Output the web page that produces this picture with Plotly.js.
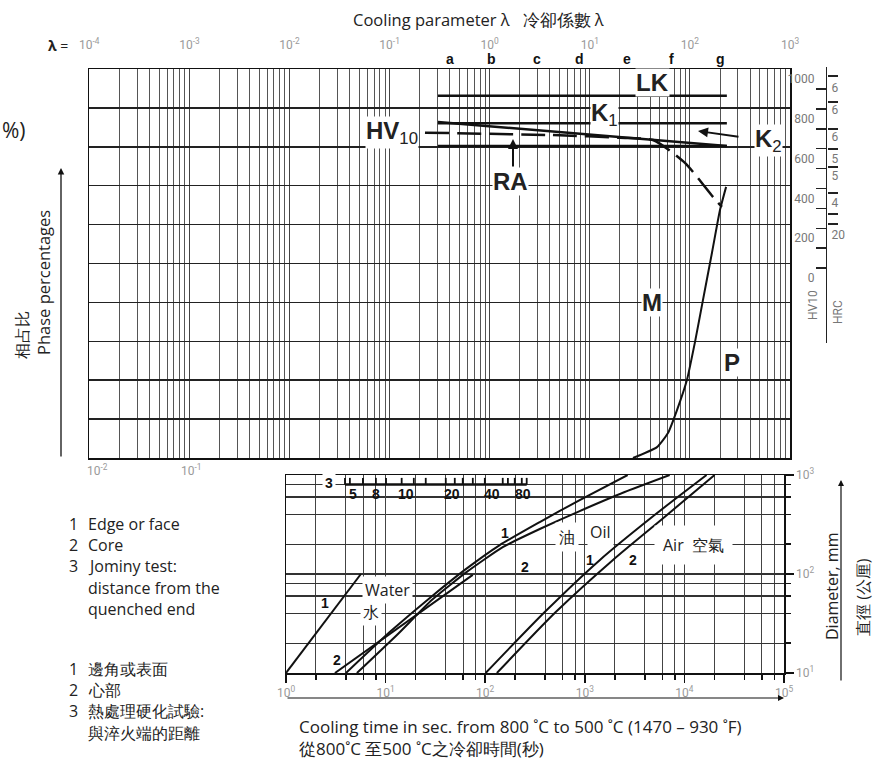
<!DOCTYPE html>
<html><head><meta charset="utf-8">
<script src="https://cdn.plot.ly/plotly-3.0.1.min.js"></script>
<style>body{margin:0;background:#fff}#chart{width:883px;height:760px}</style>
</head><body><div id="chart"></div>
<script>
const W = 883, H = 760;
const px = x => x / W, py = y => 1 - y / H;

// ---------- TOP PANEL DATA (x = cooling parameter λ) ----------
const lambdaDecades = [-4, -3, -2, -1, 0, 1, 2, 3];
const lambdaLetters = ['a', 'b', 'c', 'd', 'e', 'f', 'g'];
const lambdaLetterVals = [0.40, 1.05, 2.97, 7.98, 23.5, 64.9, 200];
// phase boundary curve M / P (percent)
const phaseLambda = [27.0, 46.9, 60.4, 74.3, 93.5, 112, 135, 166, 200, 230];
const phasePct    = [0, 2.8, 6.4, 12.3, 20.1, 29.6, 40.6, 52.7, 63.8, 69.7];
// hardness curves (HV10)
const hv10Lambda = [0.2256, 5.03, 20.0, 42.8, 89.3, 170, 209];
const hv10HV     = [730, 717, 704, 693, 578, 407, 357];
const lineLambda = [0.304, 234];
const lkHV  = [915, 915];
const k1HV  = [777, 777];
const k2HV  = [784, 663];
const k3HV  = [663, 663];
// hardness scale
const hvTickVals  = [50, 150, 250, 350, 450, 550, 650, 750, 850, 950];
const hvLabelVals = [0, 200, 400, 600, 800, 1000];
const hrcTickHV   = [1015, 884, 749, 648, 558, 427, 322, 271];
const hrcLabelHV  = [955, 844, 709, 598, 513, 377, 216];
const hrcLabelTxt = ['6', '6', '6', '5', '5', '4', '20'];

// ---------- LOWER PANEL DATA (x = cooling time s, y = diameter mm) ----------
const timeDecades = [0, 1, 2, 3, 4, 5];
const diaDecades = [1, 2, 3];
const water1T = [1, 5.65],   water1D = [10, 100];
const water2T = [3.1, 75],   water2D = [10, 98];
const oil1T = [4.0, 11.0, 27.8, 62.4, 140, 353, 889, 2692];
const oil1D = [10, 25.9, 57.3, 110, 196, 335, 559, 1000];
const oil2T = [5.15, 13.3, 29.1, 65.3, 150, 353, 889, 2512, 7110];
const oil2D = [10, 24.8, 54.6, 105, 187, 285, 432, 673, 1000];
const air1T = [101, 396, 1410, 5020, 16700];
const air1D = [10, 41.3, 138, 394, 1000];
const air2T = [131, 511, 1905, 6330, 20100];
const air2D = [10, 41.3, 138, 377, 1000];
// Jominy scale (distance mm placed at equivalent cooling time)
const jominyTickT  = [3.91, 4.38, 5.92, 7.99, 10.1, 14.5, 19.2, 25.3, 40.2, 49.5, 59.5, 75.1, 99.1, 150, 169, 198, 233, 261];
const jominyLabels = ['5', '8', '10', '20', '40', '80'];
const jominyLabelT = [4.67, 8.0, 16.0, 45.9, 118, 238];

// ---------- helpers ----------
function minorVals(d0, d1, mults) {
  const v = [];
  for (let d = d0; d < d1; d++) for (const m of mults) v.push(m * Math.pow(10, d));
  return v;
}
const sup = e => '10<sup>' + e + '</sup>';

const traces = [];
traces.push({x: phaseLambda, y: phasePct, xaxis: 'x', yaxis: 'y', mode: 'lines',
  line: {color: '#111', width: 2, shape: 'spline', smoothing: 0.5}, hoverinfo: 'skip', showlegend: false});
[lkHV, k1HV, k2HV, k3HV].forEach(hv => {
  traces.push({x: lineLambda, y: hv, xaxis: 'x', yaxis: 'y3', mode: 'lines',
    line: {color: '#111', width: 2.5}, hoverinfo: 'skip', showlegend: false});
});
traces.push({x: hv10Lambda, y: hv10HV, xaxis: 'x', yaxis: 'y3', mode: 'lines',
  line: {color: '#111', width: 2.5, dash: '24px,8px', shape: 'spline', smoothing: 0.6},
  hoverinfo: 'skip', showlegend: false});
['y4', 'y5', 'y6', 'y7'].forEach(ya => traces.push({x: [0.5], y: [null], xaxis: 'x3', yaxis: ya,
  mode: 'markers', marker: {opacity: 0}, hoverinfo: 'skip', showlegend: false}));

[[water1T, water1D, 0], [water2T, water2D, 0], [oil1T, oil1D, 0.5], [oil2T, oil2D, 0.5], [air1T, air1D, 0.7], [air2T, air2D, 0.7]].forEach(([t, d, s]) => {
  traces.push({x: t, y: d, xaxis: 'x2', yaxis: 'y2', mode: 'lines',
    line: {color: '#111', width: 2, shape: s ? 'spline' : 'linear', smoothing: s || 0}, hoverinfo: 'skip', showlegend: false});
});
const jx = [jominyTickT[0], jominyTickT[jominyTickT.length - 1]], jy = [800, 800];
traces.push({x: jx, y: jy, xaxis: 'x2', yaxis: 'y2', mode: 'lines', line: {color: '#111', width: 2.5},
  hoverinfo: 'skip', showlegend: false});
const tx = [], ty = [];
jominyTickT.forEach(t => { tx.push(t, t, null); ty.push(800, 935, null); });
traces.push({x: tx, y: ty, xaxis: 'x2', yaxis: 'y2', mode: 'lines', line: {color: '#111', width: 1.8},
  hoverinfo: 'skip', showlegend: false});

// ---------- layout ----------
const topXDom = [px(89.3), px(790)];
const topYDom = [py(458), py(69)];
const tickFont = {family: 'Roboto, DejaVu Sans', size: 12, color: '#9a9a9a'};
const scaleFont = {family: 'Roboto, DejaVu Sans', size: 12, color: '#777'};
const scaleDom = [py(343), py(67)], scaleRange = [-326.6, 1060.3];

const layout = {
  width: W, height: H, margin: {l: 0, r: 0, t: 0, b: 0},
  paper_bgcolor: '#fff', plot_bgcolor: 'rgba(0,0,0,0)', showlegend: false,
  font: {family: 'Open Sans, Noto Sans, sans-serif', color: '#222'},
  xaxis: {type: 'log', range: [-4, 3], domain: topXDom, anchor: 'y', side: 'top',
    tickvals: lambdaDecades.map(e => Math.pow(10, e)), ticktext: lambdaDecades.map(sup),
    ticks: 'outside', ticklen: 14, tickcolor: 'rgba(0,0,0,0)', tickfont: tickFont,
    showgrid: true, gridcolor: '#444', gridwidth: 1,
    minor: {tickmode: 'array', tickvals: minorVals(-4, 3, [2, 3, 4, 5, 6, 7, 8, 9]), showgrid: true, gridcolor: '#555', gridwidth: 1, ticks: ''},
    showline: true, mirror: true, linecolor: '#111', linewidth: 1.5, zeroline: false},
  yaxis: {range: [0, 100], domain: topYDom, anchor: 'x', dtick: 10, showticklabels: false, ticks: '',
    showgrid: true, gridcolor: '#222', gridwidth: 1.5, zeroline: false,
    showline: true, mirror: true, linecolor: '#111', linewidth: 1.5},
  yaxis3: {overlaying: 'y', range: [-905, 1050], visible: false, anchor: 'x'},
  xaxis3: {domain: [px(827), px(870)], range: [0, 1], visible: false, anchor: 'y4'},
  yaxis4: {domain: scaleDom, range: scaleRange, anchor: 'x3', side: 'left',
    tickvals: hvTickVals, showticklabels: false, ticks: 'outside', ticklen: 10, tickwidth: 1.5, tickcolor: '#222',
    showline: true, linecolor: '#222', linewidth: 1.5, showgrid: false, zeroline: false},
  yaxis5: {domain: scaleDom, range: scaleRange, anchor: 'x3', side: 'left',
    tickvals: hvLabelVals, ticktext: hvLabelVals.map(String), ticks: 'outside', ticklen: 9, tickcolor: 'rgba(0,0,0,0)',
    tickfont: scaleFont, showline: false, showgrid: false, zeroline: false},
  yaxis6: {domain: scaleDom, range: scaleRange, anchor: 'free', position: px(827), side: 'right',
    tickvals: hrcTickHV, showticklabels: false, ticks: 'outside', ticklen: 10, tickwidth: 1.5, tickcolor: '#222',
    showline: false, showgrid: false, zeroline: false},
  yaxis7: {domain: scaleDom, range: scaleRange, anchor: 'free', position: px(827), side: 'right',
    tickvals: hrcLabelHV, ticktext: hrcLabelTxt, ticks: 'outside', ticklen: 1, tickcolor: 'rgba(0,0,0,0)',
    tickfont: scaleFont, showline: false, showgrid: false, zeroline: false},
  xaxis2: {type: 'log', range: [0, 5], domain: [px(286), px(784)], anchor: 'y2',
    tickvals: timeDecades.map(e => Math.pow(10, e)), ticktext: timeDecades.map(sup),
    ticks: 'outside', ticklen: 8, tickwidth: 1.5, tickcolor: '#111', tickfont: tickFont,
    showgrid: true, gridcolor: '#444', gridwidth: 1,
    minor: {tickmode: 'array', tickvals: minorVals(0, 5, [2, 4, 6, 8]), showgrid: true, gridcolor: '#444', gridwidth: 1,
      ticks: 'outside', ticklen: 5, tickcolor: '#111'},
    showline: true, mirror: true, linecolor: '#111', linewidth: 1.5, zeroline: false},
  yaxis2: {type: 'log', range: [1, 3], domain: [py(673), py(475)], anchor: 'x2', side: 'right',
    tickvals: diaDecades.map(e => Math.pow(10, e)), ticktext: diaDecades.map(sup),
    ticks: 'outside', ticklen: 8, tickwidth: 1.5, tickcolor: '#111', tickfont: tickFont,
    showgrid: true, gridcolor: '#333', gridwidth: 1.3,
    minor: {tickmode: 'array', tickvals: minorVals(1, 3, [2, 4, 6, 8]), showgrid: true, gridcolor: '#333', gridwidth: 1.3,
      ticks: 'outside', ticklen: 5, tickcolor: '#111'},
    showline: true, mirror: true, linecolor: '#111', linewidth: 1.5, zeroline: false},
  shapes: [
    {type: 'rect', xref: 'paper', yref: 'paper', x0: px(345), x1: px(530), y0: py(487), y1: py(503),
      fillcolor: '#fff', line: {width: 0}, layer: 'between'}
  ],
  annotations: []
};

const A = layout.annotations;
function txt(text, x, y, o = {}) {
  A.push(Object.assign({text, x: px(x), y: py(y), xref: 'paper', yref: 'paper', showarrow: false,
    xanchor: 'center', yanchor: 'middle', font: {size: 16, color: '#222'}}, o));
}
function arrow(xh, yh, xt, yt, w = 1.5) {
  A.push({text: '', x: px(xh), y: py(yh), xref: 'paper', yref: 'paper', showarrow: true,
    ax: xt - xh, ay: yt - yh, axref: 'pixel', ayref: 'pixel', arrowhead: 2, arrowsize: 1, arrowwidth: w, arrowcolor: '#111'});
}
const bold = {family: 'Liberation Sans, Arial, sans-serif', size: 24, color: '#222'};
const lab = {size: 16, color: '#222'};

txt('Cooling parameter λ   冷卻係數 λ', 478, 20, {font: {size: 16.5, color: '#222'}});
txt('<b>λ</b> =', 58, 45, {font: {size: 14, color: '#222'}});
lambdaLetters.forEach((l, i) => {
  A.push({text: '<b>' + l + '</b>', x: Math.log10(lambdaLetterVals[i]), y: py(59), xref: 'x', yref: 'paper',
    yanchor: 'middle', showarrow: false, font: {family: 'Liberation Sans, Arial', size: 14, color: '#111'}});
});
txt('<b>LK</b>', 652, 82, {font: bold, bgcolor: '#fff', borderpad: 0});
txt('<b>K</b><sub>1</sub>', 604, 114, {font: bold, bgcolor: '#fff', borderpad: 0});
txt('<b>HV</b><sub>10</sub>', 392, 132, {font: bold, bgcolor: '#fff', borderpad: 0});
txt('<b>K</b><sub>2</sub>', 768, 140, {font: bold, bgcolor: '#fff', borderpad: 0});
arrow(698, 131, 740, 137, 2);
arrow(513, 139, 513, 168, 2);
txt('<b>RA</b>', 510, 181, {font: bold, bgcolor: '#fff', borderpad: 0});
txt('<b>M</b>', 652, 302, {font: bold, bgcolor: '#fff', borderpad: 0});
txt('<b>P</b>', 732, 362, {font: bold, bgcolor: '#fff', borderpad: 0});
txt('%)', 0, 130, {xanchor: 'left', font: {size: 21, color: '#222'}});
txt('Phase percentages', 43, 283, {textangle: -90, font: {size: 16.5, color: '#222'}});
txt('相占比', 22, 335, {textangle: -90, font: {size: 16, color: '#222'}});
arrow(61, 168, 61, 458, 1.3);
txt('10<sup>-2</sup>', 97, 470, {font: tickFont});
txt('10<sup>-1</sup>', 191, 470, {font: tickFont});
txt('HV10', 813, 305, {textangle: -90, font: scaleFont});
txt('HRC', 838, 312, {textangle: -90, font: scaleFont});

const num = {family: 'Liberation Sans, Arial', size: 14, color: '#111'};
txt('<b>3</b>', 329, 483, {font: num, bgcolor: '#fff', borderpad: 2});
jominyLabels.forEach((l, i) => {
  A.push({text: '<b>' + l + '</b>', x: Math.log10(jominyLabelT[i]), y: py(494), xref: 'x2', yref: 'paper',
    showarrow: false, font: {family: 'Liberation Sans, Arial', size: 14, color: '#111'}});
});
txt('Water', 387, 590, {font: lab, bgcolor: '#fff', borderpad: 2});
txt('水', 371, 612, {font: lab, bgcolor: '#fff', borderpad: 2});
txt('<b>1</b>', 325, 603, {font: num});
txt('<b>2</b>', 337, 660, {font: num});
txt('<b>1</b>', 505, 533, {font: num});
txt('<b>2</b>', 525, 567, {font: num});
txt('油', 567, 537, {font: lab, bgcolor: '#fff', borderpad: 3});
txt('Oil', 600, 532, {font: lab, bgcolor: '#fff', borderpad: 2});
txt('<b>1</b>', 590, 560, {font: num});
txt('<b>2</b>', 633, 560, {font: num});
txt('Air  空氣', 693, 545, {font: lab, bgcolor: '#fff', borderpad: 8});
arrow(784, 698, 286, 698, 1.2);
txt('Cooling time in sec. from 800 ˚C to 500 ˚C (1470 – 930 ˚F)', 297, 726, {xanchor: 'left', font: {size: 17, color: '#222'}});
txt('從800˚C 至500 ˚C之冷卻時間(秒)', 297, 748, {xanchor: 'left', font: {size: 17, color: '#222'}});
txt('Diameter, mm', 832, 587, {textangle: -90, font: {size: 16, color: '#222'}});
txt('直徑 (公厘)', 863, 597, {textangle: -90, font: {size: 16, color: '#222'}});
arrow(841, 480, 841, 682, 1.2);

const leg = [['1', 'Edge or face', 524], ['2', 'Core', 545], ['3', 'Jominy test:', 566], ['', 'distance from the', 588], ['', 'quenched end', 609],
  ['1', '邊角或表面', 669], ['2', '心部', 690], ['3', '熱處理硬化試驗:', 711], ['', '與淬火端的距離', 733]];
leg.forEach(([n, t, y]) => {
  if (n) txt(n, 67, y, {xanchor: 'left', font: {size: 16, color: '#222'}});
  txt(t, 86, y, {xanchor: 'left', font: {size: 16, color: '#222'}});
});

Plotly.newPlot('chart', traces, layout, {staticPlot: true});
</script></body></html>
